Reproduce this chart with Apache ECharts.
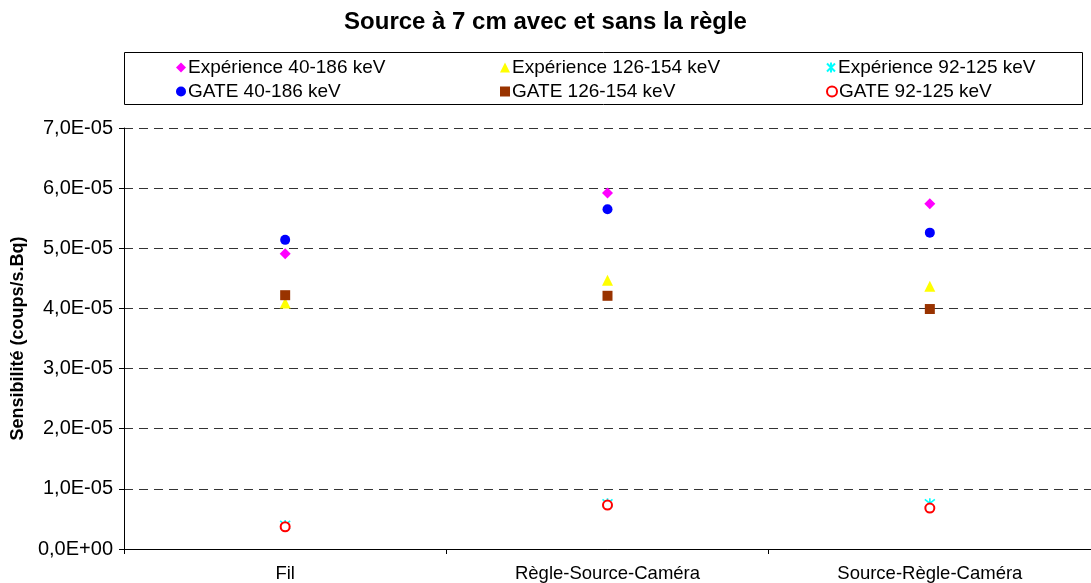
<!DOCTYPE html>
<html>
<head>
<meta charset="utf-8">
<script src="https://cdn.jsdelivr.net/npm/echarts@6/dist/echarts.min.js"></script>
<style>
  html, body { margin: 0; padding: 0; background: #fff; }
  #chart { width: 1091px; height: 583px; }
</style>
</head>
<body>
<div id="chart"></div>
<script>
// Configurations de mesure
const categories = ['Fil', 'Règle-Source-Caméra', 'Source-Règle-Caméra'];

// Sensibilités mesurées (coups/s.Bq)
const expe40_186  = [4.91e-5, 5.92e-5, 5.74e-5];
const expe126_154 = [4.09e-5, 4.47e-5, 4.37e-5];
const expe92_125  = [0.40e-5, 0.76e-5, 0.76e-5];

// Sensibilités simulées avec GATE (coups/s.Bq)
const gate40_186  = [5.14e-5, 5.65e-5, 5.26e-5];
const gate126_154 = [4.22e-5, 4.21e-5, 3.99e-5];
const gate92_125  = [0.37e-5, 0.73e-5, 0.68e-5];

const seriesNames = [
  'Expérience 40-186 keV', 'Expérience 126-154 keV', 'Expérience 92-125 keV',
  'GATE 40-186 keV', 'GATE 126-154 keV', 'GATE 92-125 keV'
];

const yTickLabels = ['0,0E+00', '1,0E-05', '2,0E-05', '3,0E-05', '4,0E-05', '5,0E-05', '6,0E-05', '7,0E-05'];

const FONT = '"Liberation Sans", Arial, sans-serif';
const asterisk = 'path://M1,1L9,9M9,1L1,9M5,0L5,10';

const styles = [
  { symbol: 'diamond', size: 11, itemStyle: { color: '#FF00FF', opacity: 1 } },
  { symbol: 'triangle', size: 11, itemStyle: { color: '#FFFF00', opacity: 1 } },
  { symbol: asterisk, size: 10, itemStyle: { color: '#00FFFF', borderColor: '#00FFFF', borderWidth: 1.6, opacity: 1 } },
  { symbol: 'circle', size: 10, itemStyle: { color: '#0000FF', opacity: 1 } },
  { symbol: 'rect', size: 10, itemStyle: { color: '#993300', opacity: 1 } },
  { symbol: 'emptyCircle', size: 9, itemStyle: { color: '#FF0000', borderColor: '#FF0000', borderWidth: 1.6, opacity: 1 } }
];
const seriesData = [expe40_186, expe126_154, expe92_125, gate40_186, gate126_154, gate92_125];

// Légende : deux lignes de trois colonnes
const legendPos = [
  [176, 58], [500, 58], [826, 58],
  [176, 82], [500, 82], [826, 82]
];
const legends = seriesNames.map((name, i) => ({
  data: [name],
  left: legendPos[i][0],
  top: legendPos[i][1],
  orient: 'horizontal',
  itemWidth: 10,
  itemHeight: 10,
  itemGap: 4,
  padding: 0,
  selectedMode: false,
  textStyle: { fontFamily: FONT, fontSize: 19, color: '#000', padding: [0, 0, 0, -3] }
}));

const chart = echarts.init(document.getElementById('chart'));
chart.setOption({
  animation: false,
  backgroundColor: '#fff',
  title: {
    text: 'Source à 7 cm avec et sans la règle',
    left: 'center',
    top: 5,
    textStyle: { fontFamily: FONT, fontSize: 24, fontWeight: 'bold', color: '#000' }
  },
  legend: legends,
  graphic: [{
    type: 'rect',
    shape: { x: 124.5, y: 52.5, width: 958, height: 52 },
    style: { fill: 'none', stroke: '#000', lineWidth: 1 },
    z: -1
  }],
  grid: { left: 124, top: 128, bottom: 34, right: -5, containLabel: false },
  xAxis: {
    type: 'category',
    data: categories,
    boundaryGap: true,
    axisLine: { lineStyle: { color: '#000', width: 1 } },
    axisTick: { show: true, length: 5, lineStyle: { color: '#000' } },
    axisLabel: { fontFamily: FONT, fontSize: 18.5, color: '#000', margin: 15 }
  },
  yAxis: {
    type: 'value',
    min: 0,
    max: 7e-5,
    interval: 1e-5,
    name: 'Sensibilité (coups/s.Bq)',
    nameLocation: 'middle',
    nameGap: 97,
    nameRotate: 90,
    nameTextStyle: { fontFamily: FONT, fontSize: 18, fontWeight: 'bold', color: '#000' },
    axisLine: { show: true, lineStyle: { color: '#000', width: 1 } },
    axisTick: { show: true, length: 5, lineStyle: { color: '#000' } },
    axisLabel: {
      fontFamily: FONT, fontSize: 20, color: '#000', margin: 11,
      formatter: v => yTickLabels[Math.round(v / 1e-5)]
    },
    splitLine: { show: true, lineStyle: { color: '#333', type: [9, 6], width: 1 } }
  },
  series: seriesNames.map((name, i) => ({
    name: name,
    type: 'scatter',
    data: seriesData[i],
    symbol: styles[i].symbol,
    symbolSize: styles[i].size,
    itemStyle: styles[i].itemStyle,
    z: 2 + i
  }))
});
</script>
</body>
</html>
